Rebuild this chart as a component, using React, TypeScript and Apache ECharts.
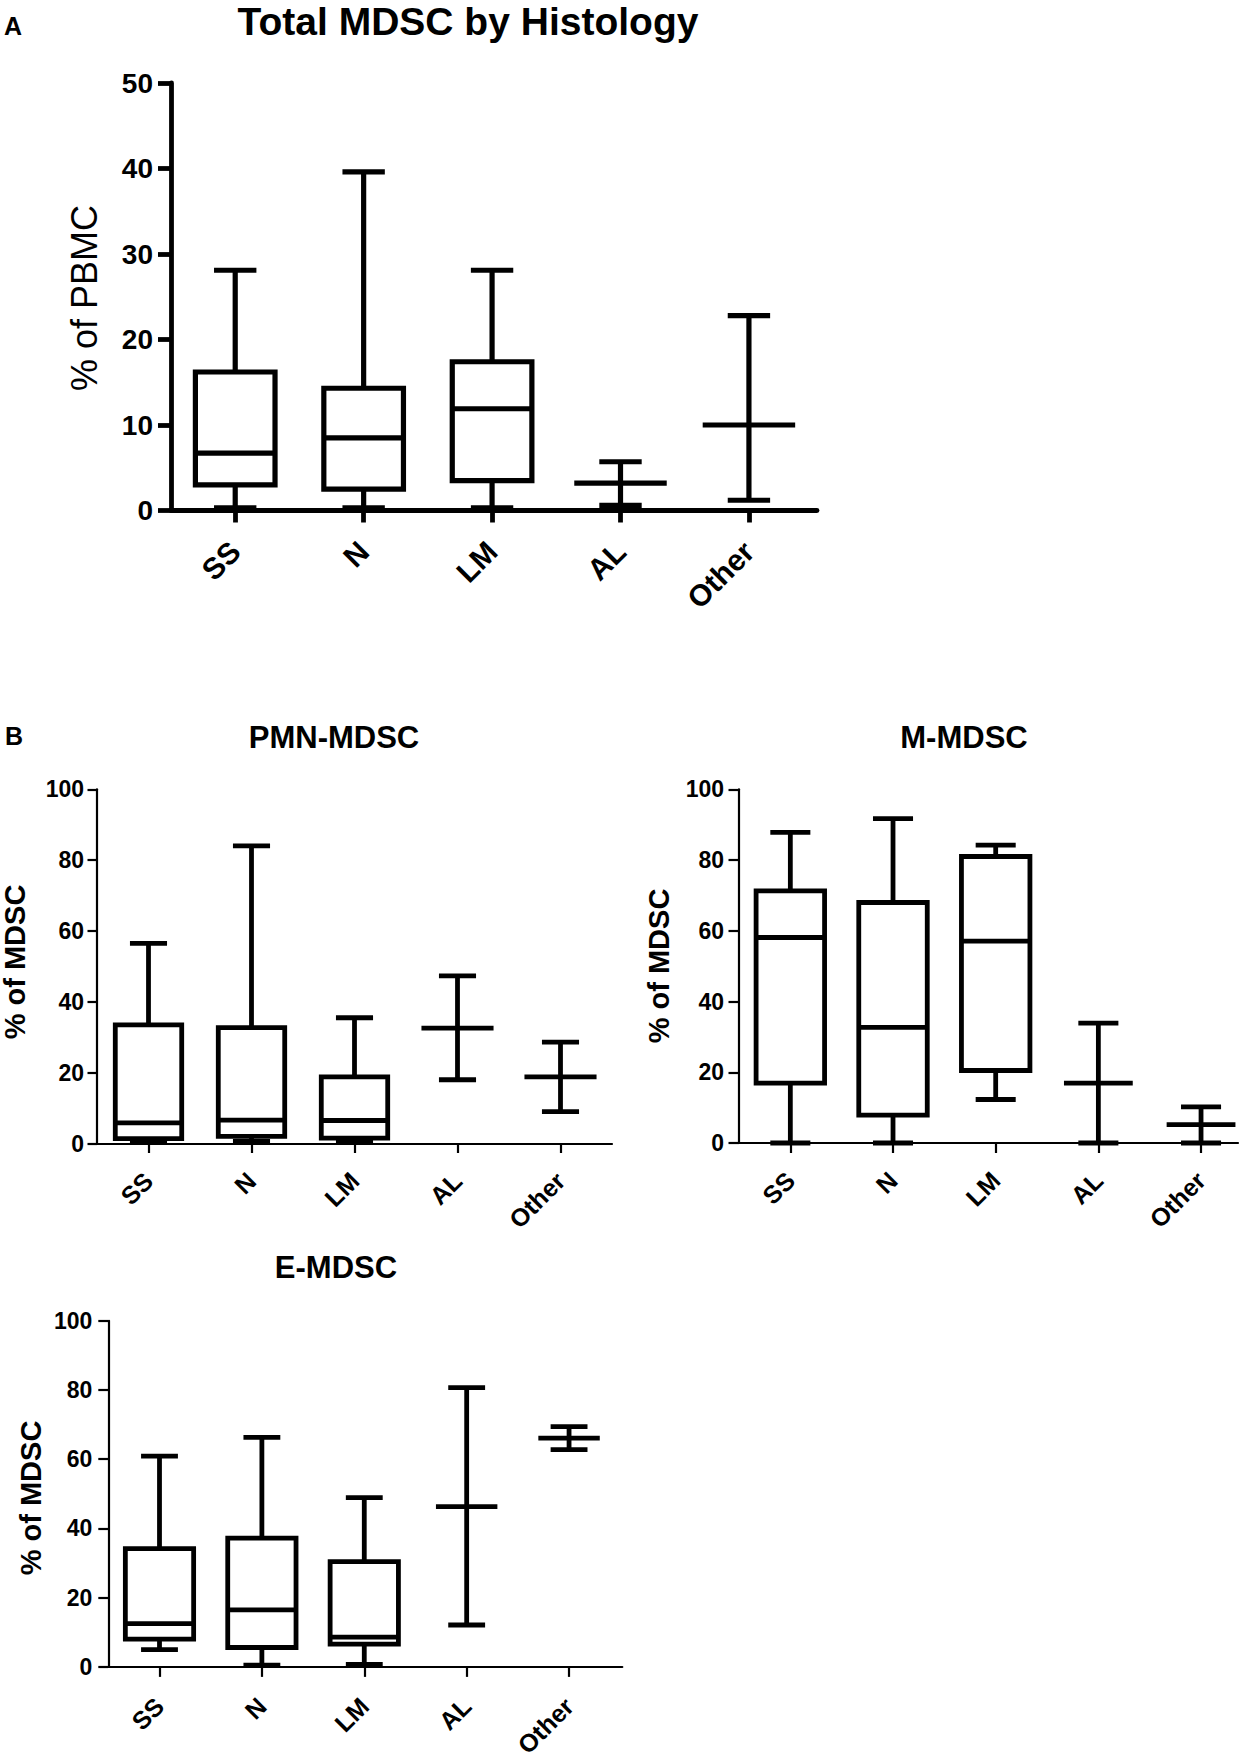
import React, { useEffect, useRef } from "react";
import * as echarts from "echarts";

// ---------- data ----------
const categories = ["SS", "N", "LM", "AL", "Other"];

// Panel A: Total MDSC by Histology (% of PBMC)
const totalMin = [0.3, 0.3, 0.3, 0.6, 1.2];
const totalQ1 = [3.0, 2.5, 3.5, null, null];
const totalMedian = [6.7, 8.5, 11.9, 3.2, 10.0];
const totalQ3 = [16.2, 14.3, 17.4, null, null];
const totalMax = [28.1, 39.6, 28.1, 5.7, 22.8];

// Panel B: PMN-MDSC (% of MDSC)
const pmnMin = [0.3, 0.6, 0.5, 18.0, 9.0];
const pmnQ1 = [1.4, 2.0, 1.5, null, null];
const pmnMedian = [5.8, 6.6, 6.5, 32.6, 18.8];
const pmnQ3 = [33.5, 32.7, 18.8, null, null];
const pmnMax = [56.5, 84.0, 35.5, 47.3, 28.6];

// Panel B: M-MDSC (% of MDSC)
const mMin = [0, 0, 12.3, 0, 0];
const mQ1 = [16.9, 7.9, 20.5, null, null];
const mMedian = [58.1, 32.7, 57.1, 16.9, 5.2];
const mQ3 = [71.3, 68.0, 81.0, null, null];
const mMax = [87.8, 91.7, 84.2, 33.9, 10.2];

// Panel B: E-MDSC (% of MDSC)
const eMin = [5.0, 0.5, 0.75, 12.1, 62.8];
const eQ1 = [8.0, 5.6, 6.6, null, null];
const eMedian = [12.5, 16.5, 8.6, 46.3, 66.1];
const eQ3 = [34.2, 37.2, 30.4, null, null];
const eMax = [60.9, 66.3, 48.9, 80.7, 69.4];

// axis scales
const pbmcMax = 50;
const pbmcInterval = 10;
const mdscMax = 100;
const mdscInterval = 20;

const FONT = "'Liberation Sans', Arial, Helvetica, sans-serif";

type Panel = {
  grid: { left: number; top: number; width: number; height: number };
  xMax: number;
  yMax: number;
  yInterval: number;
  axisW: number;
  yTickLen: number;
  xTickLen: number;
  yLabelFont: number;
  yLabelMargin: number;
  catFont: number;
  catMargin: number;
  lw: number;
  box: number;
  cap: number;
  mid: number;
  min: number[];
  q1: (number | null)[];
  med: number[];
  q3: (number | null)[];
  max: number[];
};

const panels: Panel[] = [
  {
    grid: { left: 171, top: 83, width: 646, height: 427.5 },
    xMax: 4.53, yMax: pbmcMax, yInterval: pbmcInterval,
    axisW: 4.8, yTickLen: 13, xTickLen: 12, yLabelFont: 28, yLabelMargin: 18,
    catFont: 30, catMargin: 36,
    lw: 5.2, box: 0.62, cap: 0.33, mid: 0.72,
    min: totalMin, q1: totalQ1, med: totalMedian, q3: totalQ3, max: totalMax,
  },
  {
    grid: { left: 97, top: 789.3, width: 515, height: 354.2 },
    xMax: 4.5, yMax: mdscMax, yInterval: mdscInterval,
    axisW: 2.2, yTickLen: 9.5, xTickLen: 9.5, yLabelFont: 23, yLabelMargin: 13,
    catFont: 25, catMargin: 33,
    lw: 4.8, box: 0.645, cap: 0.36, mid: 0.7,
    min: pmnMin, q1: pmnQ1, med: pmnMedian, q3: pmnQ3, max: pmnMax,
  },
  {
    grid: { left: 739, top: 789.3, width: 499, height: 353.7 },
    xMax: 4.36, yMax: mdscMax, yInterval: mdscInterval,
    axisW: 2.2, yTickLen: 10.5, xTickLen: 10, yLabelFont: 23, yLabelMargin: 15,
    catFont: 25, catMargin: 33,
    lw: 4.8, box: 0.667, cap: 0.39, mid: 0.67,
    min: mMin, q1: mQ1, med: mMedian, q3: mQ3, max: mMax,
  },
  {
    grid: { left: 108.3, top: 1320.8, width: 514, height: 353.5 },
    xMax: 4.52, yMax: mdscMax, yInterval: mdscInterval,
    axisW: 2.2, yTickLen: 10, xTickLen: 10, yLabelFont: 23, yLabelMargin: 16,
    catFont: 25, catMargin: 35,
    lw: 4.8, box: 0.667, cap: 0.36, mid: 0.6,
    min: eMin, q1: eQ1, med: eMedian, q3: eQ3, max: eMax,
  },
];

function makeRenderer(p: Panel) {
  return (params: any, api: any) => {
    const i = params.dataIndex;
    const x = api.value(0);
    const unit = api.size([1, 0])[0];
    const pMin = api.coord([x, api.value(1)]);
    const pMed = api.coord([x, api.value(2)]);
    const pMax = api.coord([x, api.value(3)]);
    const cx = pMed[0];
    const st = { stroke: "#000", lineWidth: p.lw, fill: "none" };
    const line = (x1: number, y1: number, x2: number, y2: number) => ({
      type: "line",
      shape: { x1, y1, x2, y2 },
      style: st,
    });
    const children: any[] = [];
    const capHalf = (unit * p.cap) / 2;
    const q1 = p.q1[i];
    const q3 = p.q3[i];
    if (q1 != null && q3 != null) {
      const yQ1 = api.coord([x, q1])[1];
      const yQ3 = api.coord([x, q3])[1];
      const half = (unit * p.box) / 2;
      children.push(line(cx, yQ3, cx, pMax[1]));
      children.push(line(cx, yQ1, cx, pMin[1]));
      children.push({
        type: "rect",
        shape: { x: cx - half, y: yQ3, width: 2 * half, height: yQ1 - yQ3 },
        style: st,
      });
      children.push(line(cx - half, pMed[1], cx + half, pMed[1]));
    } else {
      const half = (unit * p.mid) / 2;
      children.push(line(cx, pMin[1], cx, pMax[1]));
      children.push(line(cx - half, pMed[1], cx + half, pMed[1]));
    }
    children.push(line(cx - capHalf, pMax[1], cx + capHalf, pMax[1]));
    children.push(line(cx - capHalf, pMin[1], cx + capHalf, pMin[1]));
    return { type: "group", children };
  };
}

function buildOption() {
  const idx = categories.map((_, i) => i);
  const grid = panels.map((p) => ({ ...p.grid, containLabel: false }));
  const xAxis = panels.map((p, g) => ({
    type: "value",
    gridIndex: g,
    min: -0.5,
    max: p.xMax,
    axisLine: { show: true, onZero: false, lineStyle: { color: "#000", width: p.axisW } },
    axisTick: {
      show: true,
      length: p.xTickLen,
      customValues: idx,
      lineStyle: { color: "#000", width: p.axisW },
    },
    axisLabel: {
      show: true,
      customValues: idx,
      rotate: 45,
      margin: p.catMargin,
      formatter: (v: number) => categories[Math.round(v)] ?? "",
      color: "#000",
      fontFamily: FONT,
      fontWeight: "bold",
      fontSize: p.catFont,
    },
    splitLine: { show: false },
  }));
  const yAxis = panels.map((p, g) => ({
    type: "value",
    gridIndex: g,
    min: 0,
    max: p.yMax,
    interval: p.yInterval,
    axisLine: { show: true, onZero: false, lineStyle: { color: "#000", width: p.axisW } },
    axisTick: { show: true, length: p.yTickLen, lineStyle: { color: "#000", width: p.axisW } },
    axisLabel: {
      margin: p.yLabelMargin,
      color: "#000",
      fontFamily: FONT,
      fontWeight: "bold",
      fontSize: p.yLabelFont,
    },
    splitLine: { show: false },
  }));
  const series = panels.map((p, g) => ({
    type: "custom",
    xAxisIndex: g,
    yAxisIndex: g,
    clip: false,
    data: categories.map((_, i) => [i, p.min[i], p.med[i], p.max[i]]),
    encode: { x: 0, y: [1, 2, 3] },
    renderItem: makeRenderer(p),
  }));

  const txt = (
    text: string,
    x: number,
    y: number,
    size: number,
    weight: string,
    align: string = "center",
    rotation = 0
  ) => ({
    type: "text",
    x,
    y,
    rotation,
    style: {
      text,
      fill: "#000",
      fontFamily: FONT,
      fontSize: size,
      fontWeight: weight,
      align,
      verticalAlign: "middle",
    },
  });

  const graphic = [
    txt("A", 4, 26, 25, "bold", "left"),
    txt("Total MDSC by Histology", 468, 21, 39, "bold"),
    txt("% of PBMC", 84, 298, 36, "normal", "center", Math.PI / 2),
    txt("B", 5, 736, 25, "bold", "left"),
    txt("PMN-MDSC", 334, 737, 31, "bold"),
    txt("M-MDSC", 964, 737, 31, "bold"),
    txt("E-MDSC", 336, 1267, 31, "bold"),
    txt("% of MDSC", 15, 962, 29, "bold", "center", Math.PI / 2),
    txt("% of MDSC", 659, 966, 29, "bold", "center", Math.PI / 2),
    txt("% of MDSC", 31, 1498, 29, "bold", "center", Math.PI / 2),
  ];

  return {
    animation: false,
    backgroundColor: "#fff",
    grid,
    xAxis,
    yAxis,
    series,
    graphic,
  };
}

export default function App() {
  const ref = useRef<HTMLDivElement>(null);
  useEffect(() => {
    if (!ref.current) return;
    const chart = echarts.init(ref.current, undefined, { renderer: "svg" });
    chart.setOption(buildOption() as any);
    return () => chart.dispose();
  }, []);
  return (
    <div
      ref={ref}
      style={{ position: "absolute", left: 0, top: 0, width: 1257, height: 1760, background: "#fff" }}
    />
  );
}
